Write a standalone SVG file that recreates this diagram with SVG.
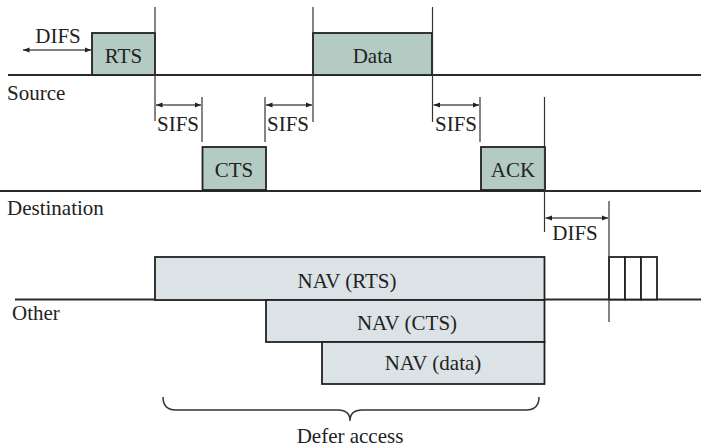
<svg xmlns="http://www.w3.org/2000/svg" width="701" height="447" viewBox="0 0 701 447">
<style>
text{font-family:"Liberation Serif","Times New Roman",serif;font-size:21px;fill:#222}
.c{text-anchor:middle}
.tl{stroke:#2a2a2a;stroke-width:2;fill:none}
.v{stroke:#333;stroke-width:1.2;fill:none}
.fr{fill:#b3cbc3;stroke:#222;stroke-width:1.8}
.nav{fill:#dce3e6;stroke:#222;stroke-width:1.8}
.arr{stroke:#555;stroke-width:1.5;fill:none;marker-start:url(#a);marker-end:url(#a)}
.sm{fill:#fff;stroke:#222;stroke-width:1.8}
</style>
<defs>
<marker id="a" viewBox="0 0 10 8" refX="10" refY="4" markerWidth="6.5" markerHeight="5.2" markerUnits="userSpaceOnUse" orient="auto-start-reverse">
<path d="M0,0 L10,4 L0,8 Z" fill="#222"/>
</marker>
</defs>
<rect width="701" height="447" fill="#fff"/>
<g id="timelines">
<line class="tl" x1="8" y1="75" x2="701" y2="75"/>
<line class="tl" x1="0" y1="191" x2="701" y2="191"/>
<line class="tl" x1="15" y1="299.5" x2="701" y2="299.5"/>
</g>
<g id="labels">
<text x="7" y="100">Source</text>
<text x="7" y="215">Destination</text>
<text x="12" y="320">Other</text>
</g>
<g id="rts"><rect class="fr" x="92" y="33" width="63" height="42"/><text class="c" x="123.5" y="63">RTS</text></g>
<g id="data"><rect class="fr" x="313" y="33" width="119" height="42"/><text class="c" x="372.5" y="63">Data</text></g>
<g id="cts"><rect class="fr" x="202.5" y="147" width="63.5" height="43"/><text class="c" x="234" y="177">CTS</text></g>
<g id="ack"><rect class="fr" x="481" y="147" width="64" height="43"/><text class="c" x="513" y="177">ACK</text></g>
<g id="nav-rts"><rect class="nav" x="155" y="257" width="389.5" height="43"/><text class="c" x="347" y="288">NAV (RTS)</text></g>
<g id="nav-cts"><rect class="nav" x="266" y="300" width="278.5" height="42"/><text class="c" x="407" y="330">NAV (CTS)</text></g>
<g id="nav-data"><rect class="nav" x="322" y="342" width="222.5" height="42"/><text class="c" x="433" y="370">NAV (data)</text></g>
<g id="slots">
<rect class="sm" x="609" y="257" width="16" height="42.5"/>
<rect class="sm" x="625" y="257" width="16" height="42.5"/>
<rect class="sm" x="641" y="257" width="16" height="42.5"/>
</g>
<g id="connectors">
<line class="v" x1="155" y1="7" x2="155" y2="121"/>
<line class="v" x1="202" y1="97" x2="202" y2="142"/>
<line class="v" x1="265" y1="97" x2="265" y2="142"/>
<line class="v" x1="313" y1="7" x2="313" y2="122"/>
<line class="v" x1="432.5" y1="7" x2="432.5" y2="122"/>
<line class="v" x1="480" y1="97" x2="480" y2="142"/>
<line class="v" x1="544.5" y1="97" x2="544.5" y2="232"/>
<line class="v" x1="609" y1="201" x2="609" y2="322"/>
<line class="arr" x1="23" y1="50" x2="91" y2="50"/>
<line class="arr" x1="156" y1="105" x2="201" y2="105"/>
<line class="arr" x1="266" y1="105" x2="312" y2="105"/>
<line class="arr" x1="433.5" y1="105" x2="479" y2="105"/>
<line class="arr" x1="545.5" y1="218" x2="608" y2="218"/>
<path d="M163,397 Q163,410 176,410 L338,410 Q350,410 350,421 Q350,410 362,410 L526,410 Q539,410 539,397" fill="none" stroke="#333" stroke-width="1.5"/>
</g>
<g id="interval-labels">
<text class="c" x="58" y="43">DIFS</text>
<text class="c" x="178" y="131">SIFS</text>
<text class="c" x="288" y="131">SIFS</text>
<text class="c" x="456" y="131">SIFS</text>
<text class="c" x="575" y="240">DIFS</text>
<text class="c" x="350" y="443">Defer access</text>
</g>
</svg>
